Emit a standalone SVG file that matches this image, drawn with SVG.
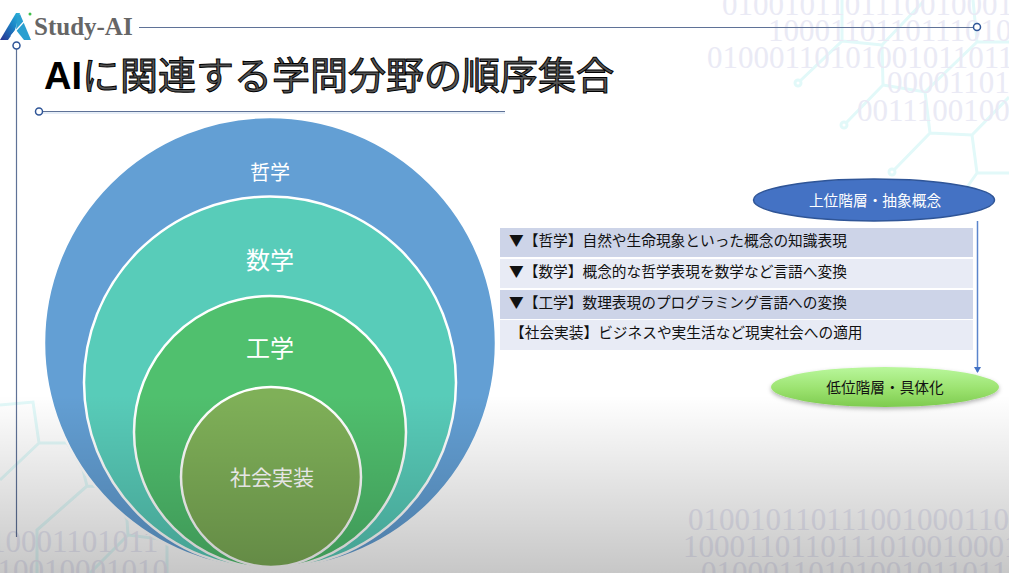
<svg xmlns="http://www.w3.org/2000/svg" width="1009" height="573" viewBox="0 0 1009 573">
<style>
text{font-family:"Noto Sans CJK JP","Liberation Sans",sans-serif}
.bin{font-family:"Liberation Serif",serif;font-size:31px;fill:#eaeaf5}
.net{fill:none;stroke:#e2f9f9;stroke-width:3}
.dot{fill:#fff;stroke:#e2f9f9;stroke-width:3}
.rule{stroke:#5f7297;stroke-width:1.2;fill:none}
.ring{fill:#fff;stroke:#2f5597;stroke-width:1.5}
.c{stroke:#fff;stroke-width:2.5}
.cl{fill:#fff;text-anchor:middle}
.row{font-size:14.7px;fill:#111}
</style>
<defs>
<linearGradient id="shade" x1="0" y1="0" x2="0" y2="1"><stop offset="0" stop-color="#000" stop-opacity="0"/><stop offset="1" stop-color="#000" stop-opacity=".22"/></linearGradient>
<linearGradient id="green" x1="0" y1="0" x2="0" y2="1"><stop offset="0" stop-color="#b9f79c"/><stop offset=".55" stop-color="#9be26f"/><stop offset="1" stop-color="#7ecb4f"/></linearGradient>
<linearGradient id="logo" x1="0" y1="1" x2="1" y2="0"><stop offset="0" stop-color="#27308f"/><stop offset=".6" stop-color="#1b86c8"/><stop offset="1" stop-color="#2bb3d8"/></linearGradient>
<marker id="arr" markerWidth="8" markerHeight="8" refX="5" refY="3.500" orient="auto" markerUnits="userSpaceOnUse"><path d="M0 0L6 3.500L0 7Z" fill="#4472c4"/></marker>
<filter id="sh" x="-10%" y="-20%" width="120%" height="150%"><feDropShadow dx="0" dy="2" stdDeviation="2" flood-color="#000" flood-opacity=".3"/></filter>
</defs>
<rect width="1009" height="573" fill="#fff"/>
<g id="background">
<path class="net" d="M800 81L842 41V0M842 41L882 45L923 2M882 45L883 85L846 123M883 85L925 92L977 42H1009M973 0L977 42M925 92L930 133L894 170M930 133L972 135L1009 97M972 135L977 173H1009M977 173L965 190"/>
<circle class="dot" cx="798" cy="83" r="3"/><circle class="dot" cx="844" cy="125" r="3"/><circle class="dot" cx="892" cy="172" r="3"/>
<path class="net" d="M0 405L33 402L39 443H67L83 470L87 486L113 487L127 520L128 535L167 540V573M39 443L0 480M87 486L37 530V573M128 535L90 573"/>
<text class="bin" x="722" y="15">0100101101110010001</text>
<text class="bin" x="768" y="41">1000110110111010</text>
<text class="bin" x="707" y="68">01000110101001011011</text>
<text class="bin" x="887" y="93">00001101</text>
<text class="bin" x="857" y="121">0011100100</text>
<text class="bin" x="688" y="530">010010110111001000110</text>
<text class="bin" x="683" y="557">1000110110111010010001</text>
<text class="bin" x="701" y="583">01000110101001011011</text>
<text class="bin" x="-10" y="552">10001101011</text>
<text class="bin" x="-18" y="581">010010001010</text>
</g>
<g id="header">
<g id="logo-mark">
<path d="M0 40L16 13L20 13L15 30L8 40Z" fill="url(#logo)"/>
<path d="M16 30L24 40H31L20 14L17 17Z" fill="#2a9fd0"/>
<path d="M11 36L29 16" stroke="#fff" stroke-width="1.2" fill="none"/>
<circle cx="30" cy="14" r="1.500" fill="#3fc04a"/>
</g>
<text x="34" y="35" font-size="25" font-weight="700" style="font-family:'Liberation Serif',serif" fill="#666">Study-AI</text>
<path class="rule" d="M139 27.500H973"/>
<circle class="ring" cx="977" cy="27" r="3.500"/>
<path class="rule" d="M16.500 49V537"/>
<circle class="ring" cx="16.500" cy="45.500" r="3.500"/>
<path class="rule" d="M43 111.500H505"/>
<path d="M43 113H505" stroke="#cddcef" stroke-width="1" fill="none"/>
<circle class="ring" cx="39" cy="111.500" r="3.500"/>
<text x="44" y="89" font-size="38"><tspan style="font-family:'Liberation Sans',sans-serif" font-weight="700" fill="#000">AI</tspan><tspan fill="#555" stroke="#000" stroke-width="1">に関連する学問分野の順序集合</tspan></text>
</g>
<g id="node-philosophy"><circle class="c" cx="270" cy="343" r="226" fill="#639fd4"/><text class="cl" x="270" y="180" font-size="20">哲学</text></g>
<g id="node-math"><circle class="c" cx="270" cy="382.500" r="186" fill="#58ccb9"/><text class="cl" x="270" y="269" font-size="24">数学</text></g>
<g id="node-engineering"><circle class="c" cx="270" cy="432" r="136" fill="#50c06e"/><text class="cl" x="270" y="357" font-size="24">工学</text></g>
<g id="node-society"><circle class="c" cx="271" cy="477" r="90" fill="#7fb058"/><text class="cl" x="272" y="485" font-size="21">社会実装</text></g>
<rect id="shade-overlay" y="395" width="1009" height="178" fill="url(#shade)"/>
<g id="node-table">
<rect x="500" y="228" width="473" height="29" fill="#cdd4e8"/>
<rect x="500" y="259" width="473" height="29" fill="#e8ebf5"/>
<rect x="500" y="290" width="473" height="29" fill="#cdd4e8"/>
<rect x="500" y="320" width="473" height="30" fill="#e8ebf5"/>
<text class="row" x="509" y="246">▼【哲学】自然や生命現象といった概念の知識表現</text>
<text class="row" x="509" y="277">▼【数学】概念的な哲学表現を数学など言語へ変換</text>
<text class="row" x="509" y="308">▼【工学】数理表現のプログラミング言語への変換</text>
<text class="row" x="510" y="338">【社会実装】ビジネスや実生活など現実社会への適用</text>
</g>
<g id="node-upper"><ellipse cx="874" cy="200" rx="120.500" ry="21" fill="#4472c4" stroke="#2f5597" stroke-width="1.500"/><text x="875" y="206" font-size="14.700" fill="#fff" text-anchor="middle">上位階層・抽象概念</text></g>
<g id="node-lower"><ellipse cx="885" cy="387" rx="114" ry="20" fill="url(#green)" filter="url(#sh)"/><text x="885" y="393" font-size="14.700" fill="#111" text-anchor="middle">低位階層・具体化</text></g>
<g id="connectors"><path d="M977.500 221V372" stroke="#5b85cc" stroke-width="1.500" fill="none" marker-end="url(#arr)"/></g>
</svg>
